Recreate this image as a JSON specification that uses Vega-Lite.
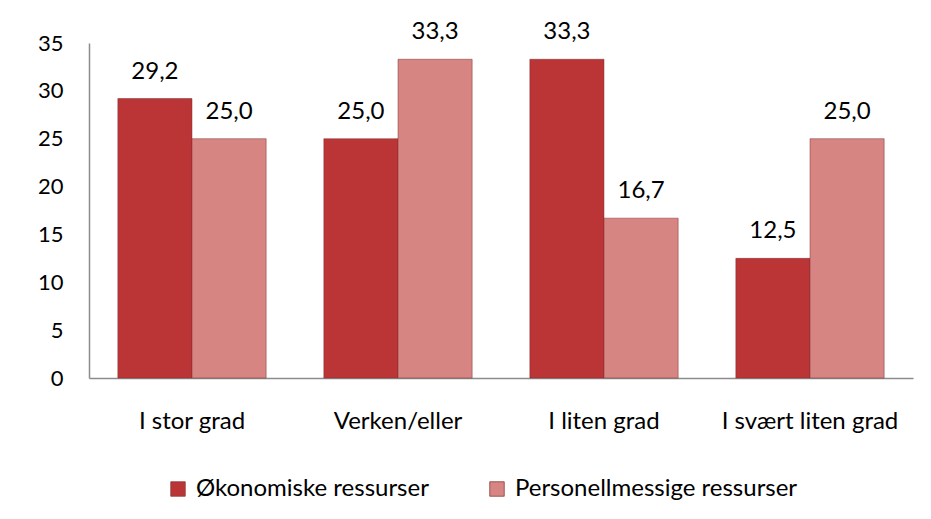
{
  "$schema": "https://vega.github.io/schema/vega-lite/v6.json",
  "width": 824,
  "height": 335,
  "autosize": "none",
  "padding": {"left": 89, "top": 43, "right": 18, "bottom": 141},
  "background": "white",
  "config": {
    "font": "Lato",
    "view": {"stroke": null},
    "locale": {"number": {"decimal": ",", "thousands": " ", "grouping": [3], "currency": ["", " kr"]}}
  },
  "data": {
    "values": [
      {"kategori": "I stor grad", "serie": "Økonomiske ressurser", "verdi": 29.2},
      {"kategori": "I stor grad", "serie": "Personellmessige ressurser", "verdi": 25.0},
      {"kategori": "Verken/eller", "serie": "Økonomiske ressurser", "verdi": 25.0},
      {"kategori": "Verken/eller", "serie": "Personellmessige ressurser", "verdi": 33.3},
      {"kategori": "I liten grad", "serie": "Økonomiske ressurser", "verdi": 33.3},
      {"kategori": "I liten grad", "serie": "Personellmessige ressurser", "verdi": 16.7},
      {"kategori": "I svært liten grad", "serie": "Økonomiske ressurser", "verdi": 12.5},
      {"kategori": "I svært liten grad", "serie": "Personellmessige ressurser", "verdi": 25.0}
    ]
  },
  "encoding": {
    "x": {
      "field": "kategori", "type": "nominal", "sort": null,
      "scale": {"paddingInner": 0.28, "paddingOuter": 0.14},
      "axis": {"title": null, "labelAngle": 0, "labelFontSize": 24, "labelColor": "#000000", "labelPadding": 31, "ticks": false, "domainColor": "#8c8c8c", "domainWidth": 1.5, "labelFont": "Lato"}
    },
    "y": {
      "field": "verdi", "type": "quantitative",
      "scale": {"domain": [0, 35], "nice": false},
      "axis": {"title": null, "values": [0, 5, 10, 15, 20, 25, 30, 35], "grid": false, "ticks": false, "labelFontSize": 22, "labelColor": "#000000", "labelPadding": 26, "domainColor": "#8c8c8c", "domainWidth": 1.5, "format": "d"}
    },
    "xOffset": {"field": "serie", "type": "nominal", "sort": ["Økonomiske ressurser", "Personellmessige ressurser"]}
  },
  "layer": [
    {
      "mark": {"type": "bar", "stroke": "#7a2a2a", "strokeWidth": 0.8, "strokeOpacity": 0.6},
      "encoding": {
        "color": {
          "field": "serie", "type": "nominal",
          "sort": ["Økonomiske ressurser", "Personellmessige ressurser"],
          "scale": {"range": ["#bb3536", "#d68583"]},
          "legend": {
            "title": null, "orient": "none", "direction": "horizontal",
            "legendX": 77, "legendY": 434,
            "symbolType": "square", "symbolSize": 210, "symbolStrokeWidth": 0.8, "symbolStrokeColor": "#8a3a3a",
            "labelFontSize": 24, "labelColor": "#000000", "labelLimit": 0, "columnPadding": 56,
            "labelOffset": 6
          }
        }
      }
    },
    {
      "mark": {"type": "text", "baseline": "middle", "dy": -27, "fontSize": 24, "color": "#000000"},
      "encoding": {
        "text": {"field": "verdi", "type": "quantitative", "format": ".1f"}
      }
    }
  ]
}
